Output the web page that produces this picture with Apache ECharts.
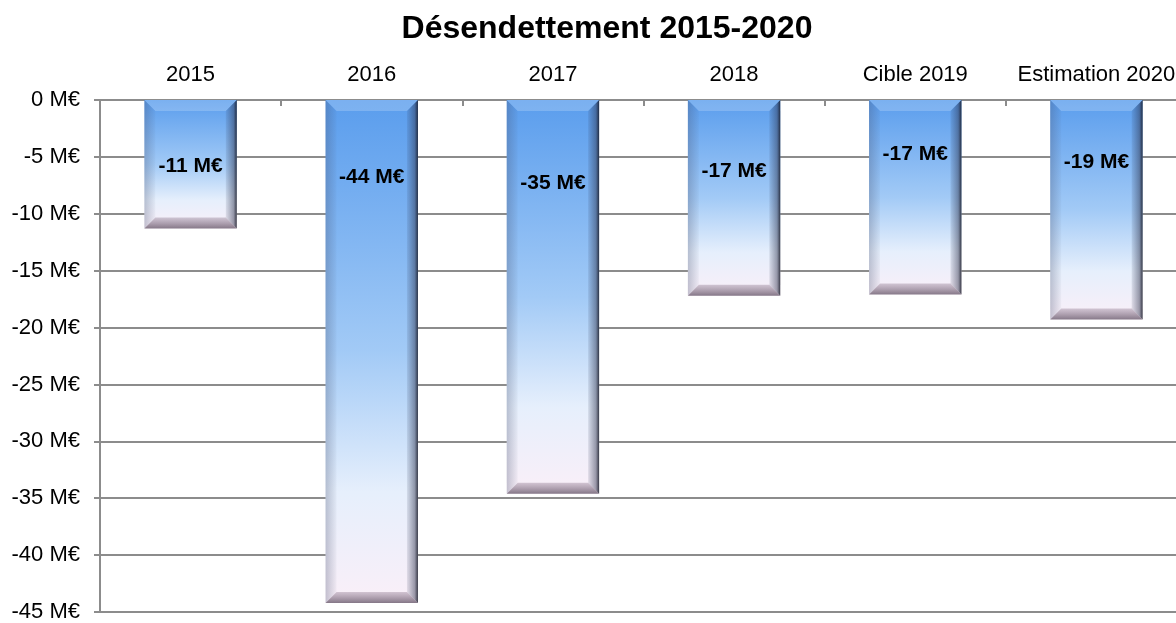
<!DOCTYPE html>
<html>
<head>
<meta charset="utf-8">
<script src="https://cdn.jsdelivr.net/npm/echarts@6/dist/echarts.min.js"></script>
<style>
  html, body { margin: 0; padding: 0; background: #ffffff; }
  #chart { width: 1176px; height: 623px; }
</style>
</head>
<body>
<div id="chart"></div>
<script>
// chart data
const categories = ['2015', '2016', '2017', '2018', 'Cible 2019', 'Estimation 2020']
const values = [-11.3, -44.2, -34.6, -17.2, -17.1, -19.3]
const yTicks = { min: -45, max: 0, interval: 5 }

// label placement below the top of each bar (px), as in the original
const labelDrop = [66, 77, 83, 71, 54, 62]

const FONT = '"Liberation Sans", Arial, sans-serif'
const LINE = '#8c8c8c'

function renderBar(params, api) {
  const idx = api.value(0)
  const val = api.value(1)
  const top = api.coord([idx, 0])
  const bot = api.coord([idx, val])
  const w = api.size([1, 0])[0] * 0.51
  const x0 = top[0] - w / 2
  const x1 = top[0] + w / 2
  const y0 = top[1]
  const y1 = bot[1]
  const b = 11

  return {
    type: 'group',
    children: [
      {
        type: 'rect',
        shape: { x: x0, y: y0, width: w, height: y1 - y0 },
        style: {
          fill: new echarts.graphic.LinearGradient(0, 0, 0, 1, [
            { offset: 0, color: '#5a9ded' },
            { offset: 0.5, color: '#a2caf6' },
            { offset: 0.78, color: '#e6effc' },
            { offset: 1, color: '#faeff8' },
          ]),
        },
      },
      {
        type: 'polygon',
        shape: { points: [[x0, y0], [x1, y0], [x1 - b, y0 + b], [x0 + b, y0 + b]] },
        style: { fill: 'rgba(255,255,255,0.2)' },
      },
      {
        type: 'polygon',
        shape: { points: [[x0, y0], [x0 + b, y0 + b], [x0 + b, y1 - b], [x0, y1]] },
        style: {
          fill: new echarts.graphic.LinearGradient(0, 0, 1, 0, [
            { offset: 0, color: 'rgba(70,80,110,0.3)' },
            { offset: 1, color: 'rgba(70,80,110,0.04)' },
          ]),
        },
      },
      {
        type: 'polygon',
        shape: { points: [[x1, y0], [x1, y1], [x1 - b, y1 - b], [x1 - b, y0 + b]] },
        style: {
          fill: new echarts.graphic.LinearGradient(0, 0, 1, 0, [
            { offset: 0, color: 'rgba(40,50,80,0.1)' },
            { offset: 0.7, color: 'rgba(40,45,70,0.45)' },
            { offset: 1, color: 'rgba(20,22,35,0.85)' },
          ]),
        },
      },
      {
        type: 'polygon',
        shape: { points: [[x0, y1], [x1, y1], [x1 - b, y1 - b], [x0 + b, y1 - b]] },
        style: {
          fill: new echarts.graphic.LinearGradient(0, 0, 0, 1, [
            { offset: 0, color: 'rgba(120,95,120,0.3)' },
            { offset: 1, color: 'rgba(70,55,75,0.65)' },
          ]),
        },
      },
      {
        type: 'text',
        style: {
          x: top[0],
          y: y0 + labelDrop[idx],
          text: Math.round(val) + ' M€',
          align: 'center',
          verticalAlign: 'middle',
          fill: '#000000',
          font: 'bold 21px ' + FONT,
        },
      },
    ],
  }
}

const chart = echarts.init(document.getElementById('chart'))
chart.setOption({
  animation: false,
  title: {
    text: 'Désendettement 2015-2020',
    left: 602,
    top: 8,
    textAlign: 'center',
    textStyle: { fontFamily: FONT, fontSize: 32, fontWeight: 'bold', color: '#000000' },
  },
  // the plot runs a little past the right edge of the window, as in the original
  grid: { left: 100, top: 100, width: 1087, bottom: 11, outerBoundsMode: 'none', containLabel: false },
  xAxis: {
    type: 'category',
    position: 'top',
    data: categories,
    boundaryGap: true,
    axisLine: { show: true, lineStyle: { color: LINE, width: 2 } },
    axisTick: { show: true, inside: true, length: 6, interval: 0, lineStyle: { color: LINE, width: 2 } },
    axisLabel: { color: '#000000', fontFamily: FONT, fontSize: 22, margin: 14, interval: 0, hideOverlap: false },
  },
  yAxis: {
    type: 'value',
    min: yTicks.min,
    max: yTicks.max,
    interval: yTicks.interval,
    axisLine: { show: true, lineStyle: { color: LINE, width: 2 } },
    axisTick: { show: true, length: 6, lineStyle: { color: LINE, width: 2 } },
    axisLabel: {
      color: '#000000',
      fontFamily: FONT,
      fontSize: 22,
      margin: 20,
      formatter: (v) => v + ' M€',
    },
    splitLine: { show: true, lineStyle: { color: LINE, width: 2 } },
  },
  series: [{
    type: 'custom',
    renderItem: renderBar,
    encode: { x: 0, y: 1 },
    data: values.map((v, i) => [i, v]),
  }],
})
</script>
</body>
</html>
